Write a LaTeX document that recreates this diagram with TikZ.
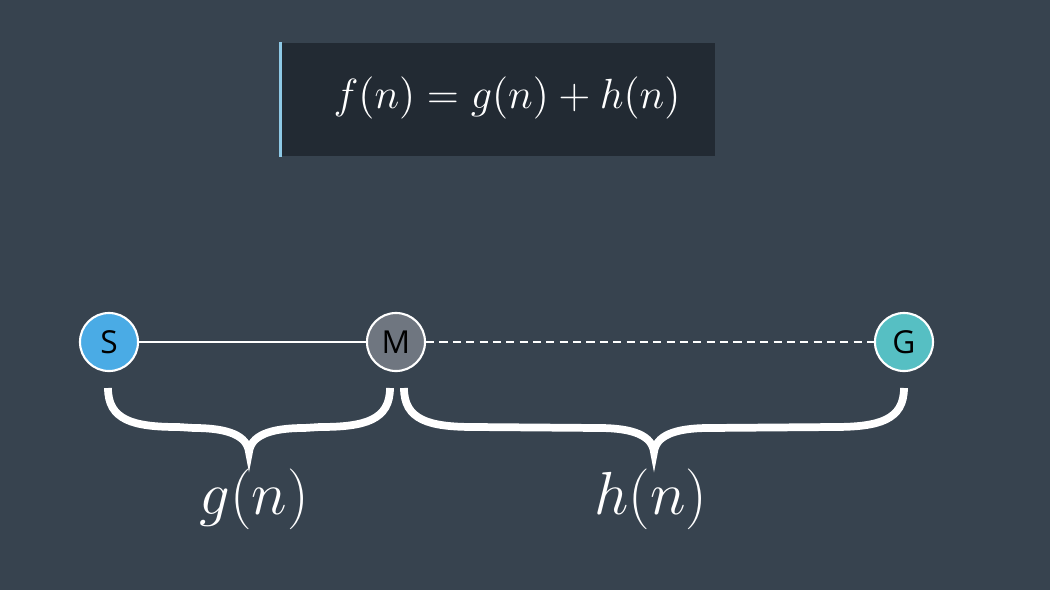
\documentclass[tikz,border=0pt]{standalone}
\usepackage{amsmath}
\usepackage{fontspec}
\newfontfamily\nodefont{Open Sans}
\usepackage{tikz}
\usetikzlibrary{calc}
\usepackage{xcolor}
\definecolor{fundo}{HTML}{37434F}
\definecolor{caixa}{HTML}{222A33}
\definecolor{faixa}{HTML}{8EC9E6}
\definecolor{corS}{HTML}{4AABE5}
\definecolor{corM}{HTML}{6F7680}
\definecolor{corG}{HTML}{56BFC3}

\begin{document}
\begin{tikzpicture}[x=0.01cm, y=-0.01cm,
    vertice/.style={circle, draw=white, line width=0.6pt, minimum size=0.58cm,
        inner sep=0pt, font=\nodefont\fontsize{9}{10}\selectfont, text=black},
    chave/.style={white, line width=2.2pt}]
    % Fundo
    \fill[fundo] (0,0) rectangle (1050,590);
    \useasboundingbox (0,0) rectangle (1050,590);
    % Formula
    \node[fill=caixa, minimum width=4.34cm, minimum height=1.13cm, inner sep=0pt] (quadro) at (498,99.5) {};
    \draw[faixa, line width=0.9pt] (quadro.north west) -- (quadro.south west);
    \node[text=white, font=\fontsize{12.8}{14}\selectfont] (formula) at ($(quadro.center)+(9,-2)$)
        {$f(n) = g(n) + h(n)$};
    % Vertices
    \node[vertice, fill=corS] (S) at (109,342) {S};
    \node[vertice, fill=corM] (M) at (396,342) {M};
    \node[vertice, fill=corG] (G) at (904,342) {G};
    \draw[white, line width=0.45pt] (S) -- (M);
    \draw[white, line width=0.45pt, dash pattern=on 2.3pt off 1.5pt] (M) -- (G);
    % Chaves
    \foreach \a/\b/\d/\nome/\txt in {108/390/5/rotg/g, 404/904/-3/roth/h} {
        \pgfmathsetmacro{\m}{(\a+\b)/2}
        \draw[chave] (\a,388) .. controls (\a,420) and (\a+25,427) .. (\a+70,427)
            -- (\m-55,428) .. controls (\m-20,428) and (\m-2,436) .. (\m,452)
            .. controls (\m+2,436) and (\m+20,428) .. (\m+55,428)
            -- (\b-70,427) .. controls (\b-25,427) and (\b,420) .. (\b,388);
        \node[text=white, font=\fontsize{17}{20}\selectfont] (\nome) at (\m+\d,499) {$\txt(n)$};
    }
\end{tikzpicture}
\end{document}
